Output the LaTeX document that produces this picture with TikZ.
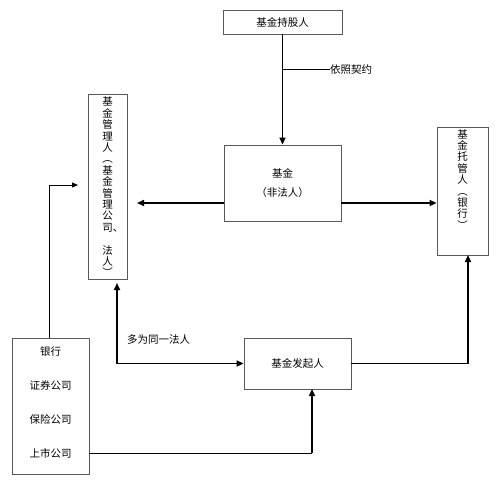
\documentclass[tikz,border=0pt]{standalone}
\usepackage{fontspec}
\newfontfamily\cjk{Noto Sans CJK SC}
\usetikzlibrary{arrows.meta}
\begin{document}
\begin{tikzpicture}[x=1pt,y=-1pt,
  box/.style={draw=black!65, line width=0.8pt, inner sep=0pt},
  lbl/.style={font=\cjk\fontsize{10.5}{13}\selectfont},
  vtext/.style={font=\cjk\fontsize{10.5}{11.4}\selectfont, align=center, inner sep=0pt},
  tip/.style={-{Triangle[length=7pt,width=6pt]}},
  conn/.style={line width=1.6pt, tip},
  smallconn/.style={line width=0.9pt, -{Triangle[length=6pt,width=5pt]}},
  thinline/.style={line width=0.8pt}]
\useasboundingbox[fill=white] (0,0) rectangle (500,483);
% boxes
\node[box, lbl, minimum width=119pt, minimum height=24pt] (holder) at (282.5,22) {基金持股人};
\node[box, minimum width=117pt, minimum height=76pt, align=center,
      font=\cjk\fontsize{10.5}{19}\selectfont] (fund) at (282.5,183) {基金\\（非法人）};
\node[box, minimum width=39pt, minimum height=185pt] (mgr) at (107.5,186.5) {};
\node[vtext] (mgrtext) at (107.5,187) {基\\金\\管\\理\\人\\︵\\基\\金\\管\\理\\公\\司\rlap{、}\\ \\法\\人\\︶};
\node[box, minimum width=51pt, minimum height=128pt] (cust) at (462.5,191) {};
\node[vtext, anchor=north] (custtext) at (462.5,129) {基\\金\\托\\管\\人\\︵\\银\\行\\︶};
\node[box, minimum width=107pt, minimum height=51pt, lbl] (init) at (297.5,363.5) {基金发起人};
\node[box, minimum width=77pt, minimum height=136pt] (bank) at (50.5,406) {};
\node[lbl] (b1) at (50.5,352) {银行};
\node[lbl] (b2) at (50.5,385) {证券公司};
\node[lbl] (b3) at (50.5,419) {保险公司};
\node[lbl] (b4) at (50.5,453) {上市公司};
% labels
\node[lbl, anchor=west, inner sep=0pt] (contract) at (330,69.5) {依照契约};
\node[lbl, anchor=west, inner sep=0pt] (same) at (127,340) {多为同一法人};
% coordinates
\coordinate (mid) at (282.5,203);
\coordinate (mgrtip) at (137,203);
\coordinate (bankup) at (49,185);
\coordinate (banktip) at (78,185);
\coordinate (mgrbot) at (117,283);
\coordinate (custin) at (468,255);
\coordinate (c1) at (468,363.5);
\coordinate (initin) at (312,389);
\coordinate (c2) at (312,453);
% connectors
\draw[conn] (holder.south) -- (fund.north);
\draw[thinline] (283,69.5) -- (contract.west);
\draw[conn] (fund.west |- mid) -- (mgrtip);
\draw[conn] (fund.east |- mid) -- (cust.west |- mid);
\draw[smallconn] (bank.north -| bankup) -- (bankup) -- (banktip);
\draw[conn, {Triangle[length=7pt,width=6pt]}-{Triangle[length=7pt,width=6pt]}] (mgrbot) |- (init.west);
\draw[thinline] (init.east) -- (c1);
\draw[conn] (c1) -- (custin);
\draw[thinline] (b4.east -| bank.east) -- (c2);
\draw[conn] (c2) -- (initin);
\end{tikzpicture}
\end{document}
